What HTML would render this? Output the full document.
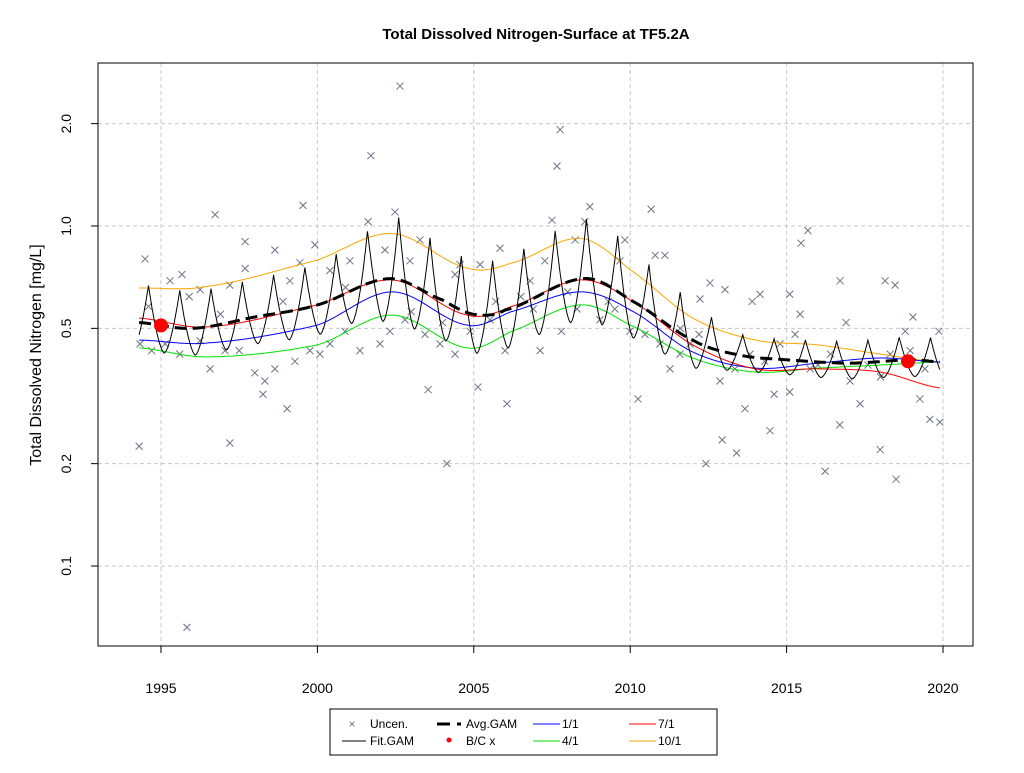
<!DOCTYPE html>
<html><head><meta charset="utf-8"><style>
body{margin:0;background:#fff;width:1024px;height:768px;overflow:hidden;font-family:"Liberation Sans",Arial,sans-serif}
svg text{font-family:"Liberation Sans",Arial,sans-serif}
</style></head><body>
<svg id="chart" width="1024" height="768" viewBox="0 0 1024 768" xmlns="http://www.w3.org/2000/svg">
<rect width="1024" height="768" fill="#fff"/>
<text x="536" y="39" text-anchor="middle" font-size="15" font-weight="bold">Total Dissolved Nitrogen-Surface at TF5.2A</text>
<text transform="translate(41,355) rotate(-90)" text-anchor="middle" font-size="16">Total Dissolved Nitrogen [mg/L]</text>
<g id="grid"></g>
<g id="axes"></g>
<g id="marks"></g>
<rect x="98" y="63" width="875" height="583" fill="none" stroke="#000" stroke-width="1"/>
<g>
<rect x="330" y="709" width="387" height="46" fill="#fff" stroke="#000"/>
<g><text x="352" y="728" text-anchor="middle" font-size="12" fill="#6a7585">×</text><text x="370" y="728" font-size="12">Uncen.</text></g>
<g><line x1="342" y1="741" x2="366" y2="741" stroke="#000"/><text x="370" y="745" font-size="12">Fit.GAM</text></g>
<g><line x1="437" y1="724" x2="450" y2="724" stroke="#000" stroke-width="3"/><line x1="457" y1="724" x2="461" y2="724" stroke="#000" stroke-width="3"/><text x="466" y="728" font-size="12">Avg.GAM</text></g>
<g><circle cx="449" cy="740" r="2.5" fill="red"/><text x="466" y="745" font-size="12">B/C x</text></g>
<g><line x1="533" y1="724" x2="560" y2="724" stroke="#00f"/><text x="562" y="728" font-size="12">1/1</text></g>
<g><line x1="533" y1="741" x2="560" y2="741" stroke="#0d0"/><text x="562" y="745" font-size="12">4/1</text></g>
<g><line x1="629" y1="724" x2="656" y2="724" stroke="red"/><text x="658" y="728" font-size="12">7/1</text></g>
<g><line x1="629" y1="741" x2="656" y2="741" stroke="orange"/><text x="658" y="745" font-size="12">10/1</text></g>
</g>
</svg>
<script>
const xTicks=[1995,2000,2005,2010,2015,2020];
const yTicks=[0.1,0.2,0.5,1.0,2.0];
const yTickLabels=["0.1","0.2","0.5","1.0","2.0"];
const knotYears=[1994.3,1996,1998,2000,2002.3,2004,2005,2006,2008.5,2010,2012,2013.5,2015,2017,2019,2019.9];
const avgGam=[0.52,0.50,0.54,0.586,0.70,0.606,0.55,0.566,0.70,0.606,0.462,0.417,0.404,0.395,0.404,0.398];
const curveYears=[1994.3,1996.5,2000,2002.4,2004.8,2006.2,2008.4,2010,2012,2014,2016,2018,2019.9];
const s10_1=[0.657,0.665,0.794,0.95,0.752,0.778,0.92,0.743,0.536,0.462,0.447,0.42,0.398];
const s7_1=[0.536,0.505,0.586,0.694,0.547,0.58,0.694,0.606,0.447,0.38,0.38,0.372,0.334];
const s1_1=[0.462,0.453,0.511,0.64,0.511,0.56,0.64,0.566,0.426,0.382,0.395,0.409,0.398];
const s4_1=[0.438,0.412,0.447,0.547,0.438,0.49,0.586,0.511,0.409,0.372,0.382,0.39,0.398];
const ampYears=[1994,1998,2001,2002.5,2004,2007,2009,2010.5,2012,2013.5,2016,2020];
const ampValues=[0.08,0.08,0.095,0.13,0.115,0.115,0.125,0.1,0.08,0.045,0.045,0.05];
const bcYears=[1995.0,2018.88];
const bcValues=[0.51,0.40];
const obsYears=[1996.73,2002.64,2001.71,1999.54,2007.76,2007.66,2010.67,2008.71,2015.68,2015.46,1995.83,2004.14,1994.30,1997.2,2012.42,2016.23,2018.5,2013.4,1999.03,2006.06,1998.26,2003.54,2005.13,2010.25,2012.94,2014.47,2013.67,2014.6,2015.1,2016.7,2017.35,2017.99,2019.26,2019.58,2019.9,2019.87,2019.04,2018.15,2018.47,2016.71,2015.43,2015.1,2014.15,2013.03,2012.55,2012.23,2011.11,2010.8,2009.83,2009.67,2008.24,2008.55,2007.5,2007.27,2006.8,2005.84,2005.2,2004.56,2004.4,2003.28,2002.96,2002.48,2002.16,2001.62,2001.04,2000.4,1999.92,1999.44,1999.12,1998.64,1997.69,1997.69,1997.2,1996.25,1995.67,1995.29,1994.49,1994.33,1994.7,1995.13,1995.6,1996.25,1996.57,1997.05,1997.5,1998.0,1998.32,1998.64,1999.28,1999.76,2000.08,2000.4,2000.88,2001.36,2002.0,2002.32,2002.8,2003.44,2003.92,2004.4,2004.88,2005.52,2006.0,2006.5,2007.12,2007.8,2008.3,2009.03,2009.51,2009.99,2010.47,2010.95,2011.27,2011.59,2011.91,2012.2,2012.87,2013.35,2013.83,2014.3,2014.79,2015.27,2015.75,2016.0,2016.4,2017.03,2017.6,2018.31,2018.79,2018.95,2019.42,1994.6,1995.9,1996.9,1998.9,2000.9,2003.0,2004.0,2005.7,2006.9,2008.0,2009.3,2011.6,2013.9,2016.9,2018.0];
const obsValues=[1.08,2.58,1.61,1.15,1.92,1.50,1.12,1.14,0.97,0.89,0.066,0.20,0.225,0.23,0.20,0.19,0.18,0.215,0.29,0.30,0.32,0.33,0.336,0.31,0.235,0.25,0.29,0.32,0.325,0.26,0.30,0.22,0.31,0.27,0.265,0.49,0.54,0.69,0.67,0.69,0.55,0.63,0.63,0.65,0.68,0.61,0.82,0.82,0.91,0.79,0.91,1.03,1.04,0.79,0.69,0.86,0.77,0.77,0.72,0.91,0.79,1.1,0.85,1.03,0.79,0.74,0.88,0.78,0.69,0.85,0.90,0.75,0.67,0.65,0.72,0.69,0.80,0.45,0.43,0.45,0.42,0.46,0.38,0.43,0.43,0.37,0.35,0.38,0.40,0.43,0.42,0.45,0.49,0.43,0.45,0.49,0.53,0.48,0.45,0.42,0.49,0.53,0.43,0.62,0.43,0.49,0.57,0.53,0.57,0.49,0.48,0.45,0.38,0.42,0.45,0.48,0.35,0.38,0.42,0.40,0.45,0.48,0.38,0.39,0.42,0.35,0.39,0.42,0.49,0.43,0.38,0.58,0.62,0.55,0.60,0.66,0.56,0.52,0.60,0.57,0.64,0.60,0.50,0.60,0.52,0.36];

const NS='http://www.w3.org/2000/svg';
const X0=98,X1=973,Y0=63,Y1=646;
function xs(t){return 161+(t-1995)*31.28;}
function ys(v){return 226-Math.log10(v)*340;}
function mk(tag,attrs,parent){const e=document.createElementNS(NS,tag);for(const k in attrs)e.setAttribute(k,attrs[k]);parent.appendChild(e);return e;}
function interp(xk,yk,t){
  let i=0;while(i<xk.length-2&&t>xk[i+1])i++;
  const x1=xk[i],x2=xk[i+1];let u=(t-x1)/(x2-x1);u=Math.max(0,Math.min(1,u));
  const p0=yk[Math.max(0,i-1)],p1=yk[i],p2=yk[i+1],p3=yk[Math.min(yk.length-1,i+2)];
  const m1=(p2-p0)/2,m2=(p3-p1)/2;
  const u2=u*u,u3=u2*u;
  return (2*u3-3*u2+1)*p1+(u3-2*u2+u)*m1+(-2*u3+3*u2)*p2+(u3-u2)*m2;
}
function logInterp(xk,vals,t){return Math.pow(10,interp(xk,vals.map(Math.log10),t));}
const grid=document.getElementById('grid'),axes=document.getElementById('axes'),marks=document.getElementById('marks');
xTicks.forEach(t=>{
  const l=mk('line',{x1:xs(t),x2:xs(t),y1:Y0,y2:Y1,stroke:'#c8c8c8','stroke-dasharray':'4,3'},grid);
  
  
  const tk=mk('line',{x1:xs(t),x2:xs(t),y1:Y1,y2:Y1+7,stroke:'#000'},axes);
  
  
  const tx=mk('text',{x:xs(t),y:693,'text-anchor':'middle','font-size':14},axes);tx.textContent=t;
  
  
});
yTicks.forEach((v,i)=>{
  const l=mk('line',{x1:X0,x2:X1,y1:ys(v),y2:ys(v),stroke:'#c8c8c8','stroke-dasharray':'4,3'},grid);
  
  
  const tk=mk('line',{x1:X0-7,x2:X0,y1:ys(v),y2:ys(v),stroke:'#000'},axes);
  
  
  const tx=mk('text',{transform:`translate(71,${ys(v)}) rotate(-90)`,'text-anchor':'middle','font-size':14},axes);tx.textContent=yTickLabels[i];
  
  
});
obsYears.forEach((t,i)=>{
  const x=xs(t),y=ys(obsValues[i]);
  const p=mk('path',{d:`M${x-3.5},${y-3.5}L${x+3.5},${y+3.5}M${x-3.5},${y+3.5}L${x+3.5},${y-3.5}`,stroke:'#6a7585','stroke-width':1},marks);
  
  
});
function curve(xk,vals,color,w,name,dash){
  let d='';for(let t=xk[0];t<=xk[xk.length-1]+1e-9;t+=0.02){d+=(d?'L':'M')+xs(t).toFixed(1)+','+ys(logInterp(xk,vals,t)).toFixed(1);}
  const p=mk('path',{d:d,fill:'none',stroke:color,'stroke-width':w},marks);
  if(dash)p.setAttribute('stroke-dasharray',dash);
  
  
}
curve(curveYears,s10_1,'orange',1,'line-10-1');
curve(curveYears,s4_1,'#00e000',1,'line-4-1');
curve(curveYears,s1_1,'#0000ff',1,'line-1-1');
curve(curveYears,s7_1,'red',1,'line-7-1');
(function(){
  let d='';const t0=knotYears[0],t1=knotYears[knotYears.length-1];
  for(let t=t0;t<=t1+1e-9;t+=0.01){
    const la=Math.log10(logInterp(knotYears,avgGam,t));
    const amp=interp(ampYears,ampValues,t);
    let ph=((t-0.6)%1+1)%1; if(ph>0.5)ph=1-ph; // 0 at peak, 0.5 at trough
    const g=Math.pow(1-2*ph,1.6);
    const lv=la-amp+2.4*amp*g;
    d+=(d?'L':'M')+xs(t).toFixed(1)+','+(226-lv*340).toFixed(1);
  }
  const p=mk('path',{d:d,fill:'none',stroke:'#000','stroke-width':1},marks);
  
  
})();
curve(knotYears,avgGam,'#000',3,'avg-gam-line','12,6');
bcYears.forEach((t,i)=>{
  const c=mk('circle',{cx:xs(t),cy:ys(bcValues[i]),r:7,fill:'red'},marks);
  
  
});
</script>
</body></html>
